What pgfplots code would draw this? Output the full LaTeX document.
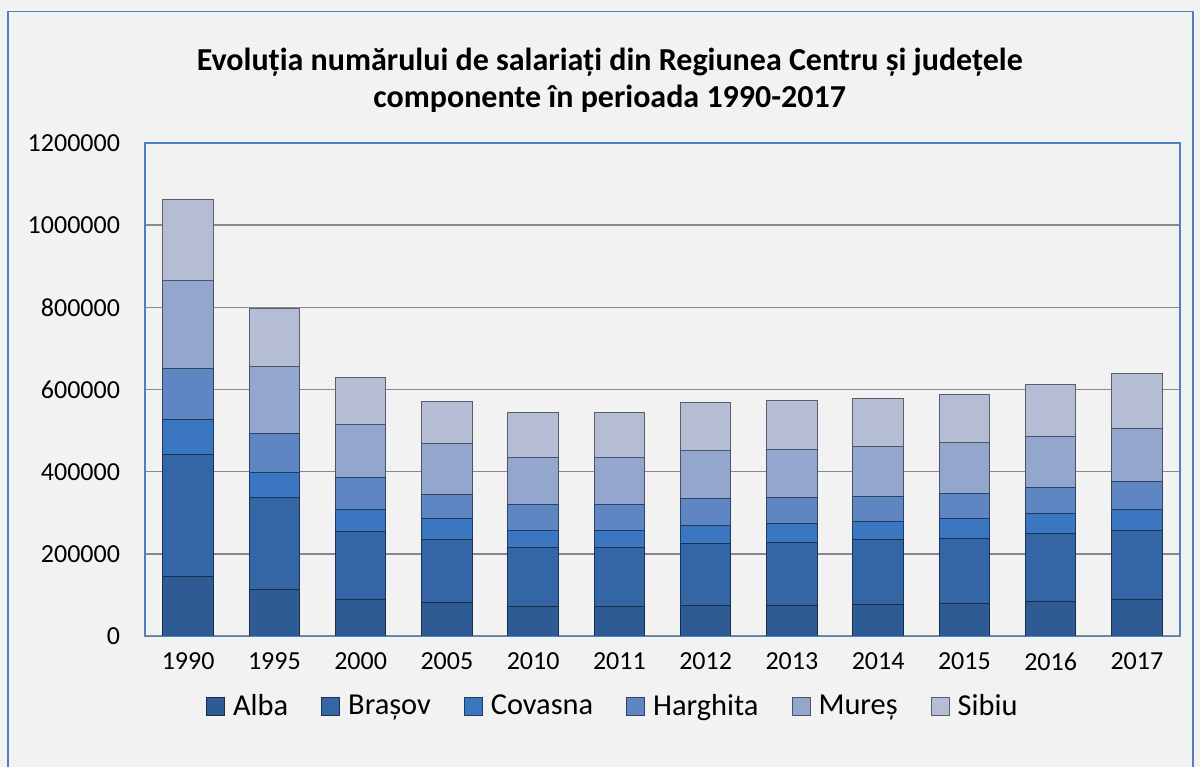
\documentclass[border=0pt]{standalone}
\usepackage{fontspec}
\setmainfont{Carlito}
\usepackage{pgfplots}
\usepackage{pgfplotstable}
\pgfplotsset{compat=1.18}
\definecolor{bgc}{HTML}{F2F2F2}
\definecolor{frameblue}{HTML}{4F81BD}
\definecolor{gridc}{HTML}{898989}
\definecolor{cAlba}{HTML}{2E5B94}
\definecolor{cBrasov}{HTML}{3466A5}
\definecolor{cCovasna}{HTML}{3B76C0}
\definecolor{cHarghita}{HTML}{5D86C3}
\definecolor{cMures}{HTML}{93A7CE}
\definecolor{cSibiu}{HTML}{B4BDD3}
\pgfplotstableread{
x year Alba Brasov Covasna Harghita Mures Sibiu
0 1990 146000 296000 84000 124000 216000 196000
1 1995 114000 223000 62000 93000 165000 140000
2 2000 88000 166000 53000 79000 128000 114000
3 2005 82000 154000 50000 59000 123000 104000
4 2010 71000 144000 41000 63000 115000 109000
5 2011 71000 145000 40000 63000 115000 111000
6 2012 75000 150000 45000 65000 116000 117000
7 2013 75000 153000 45000 64000 118000 118000
8 2014 77000 157000 44000 61000 122000 117000
9 2015 78000 160000 49000 59000 125000 118000
10 2016 84000 166000 47000 64000 124000 127000
11 2017 88000 170000 50000 67000 130000 134000
}\datatable
\tikzset{
  bev/.style={draw=#1!50!black, line width=0.5bp, fill=#1}
}
\begin{document}
\begin{tikzpicture}
\useasboundingbox (0,0) rectangle (600bp,383.5bp);
\fill[bgc] (0,0) rectangle (600bp,383.5bp);
\draw[frameblue, line width=0.7bp] (4bp,-1bp) -- (4bp,377.75bp) -- (596.5bp,377.75bp) -- (596.5bp,-1bp);
\begin{axis}[
  at={(72.5bp,65.5bp)}, anchor=south west,
  scale only axis, width=517.5bp, height=246.5bp,
  ybar stacked, bar width=25.3bp,
  xmin=-0.5, xmax=11.5, ymin=0, ymax=1200000,
  xtick={0,...,11},
  xticklabels={1990,1995,2000,2005,2010,2011,2012,2013,2014,2015,2016,2017},
  ytick={0,200000,400000,600000,800000,1000000,1200000},
  scaled y ticks=false,
  /pgf/number format/.cd, fixed, precision=0, 1000 sep={}, assume math mode=true, /pgfplots/.cd,
  ymajorgrids, grid style={color=gridc, line width=0.8bp},
  major tick length=0pt,
  axis line style={color=frameblue, line width=0.6bp},
  tick label style={font=\fontsize{13bp}{15bp}\selectfont, text=black},
  yticklabel style={xshift=-9bp},
  xticklabel style={yshift=-5bp},
  title={Evoluția numărului de salariați din Regiunea Centru și județele\\componente în perioada 1990-2017},
  title style={at={(0.449,1.103)}, anchor=center, align=center, font=\fontsize{16bp}{18.5bp}\selectfont\bfseries},
  legend style={at={(0.453,-0.142)}, anchor=center, draw=none, fill=none,
    font=\fontsize{15.2bp}{17bp}\selectfont,
    /tikz/every even column/.append style={column sep=14.5bp},
    /tikz/every odd column/.append style={column sep=2bp},
    nodes={inner sep=2bp}},
  legend columns=6,
  legend image code/.code={\path[#1] (0bp,-4.5bp) rectangle (9bp,4.5bp);},
  axis on top=false,
]
\addplot[bev=cAlba] table[x=x, y=Alba] {\datatable};
\addplot[bev=cBrasov] table[x=x, y=Brasov] {\datatable};
\addplot[bev=cCovasna] table[x=x, y=Covasna] {\datatable};
\addplot[bev=cHarghita] table[x=x, y=Harghita] {\datatable};
\addplot[bev=cMures] table[x=x, y=Mures] {\datatable};
\addplot[bev=cSibiu] table[x=x, y=Sibiu] {\datatable};
\legend{Alba,Brașov,Covasna,Harghita,Mureș,Sibiu}
\draw[gridc, line width=0.8bp] (rel axis cs:0,0) -- (rel axis cs:1,0);
\end{axis}
\end{tikzpicture}
\end{document}
